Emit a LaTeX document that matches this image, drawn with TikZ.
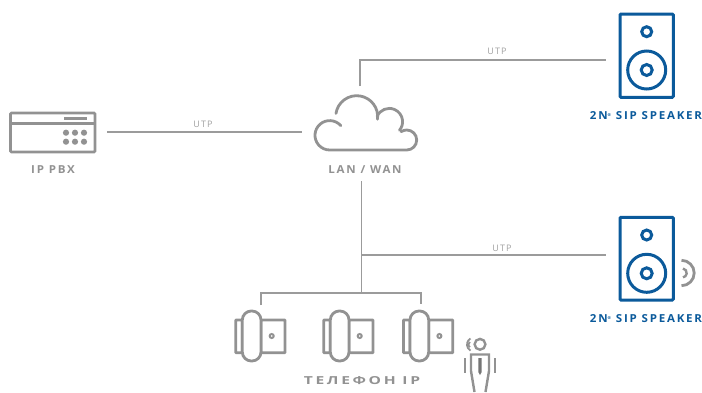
\documentclass[tikz,border=0pt]{standalone}
\usepackage{fontspec}
\setmainfont{Open Sans}
\newfontfamily\lblfont[LetterSpace=16,FakeStretch=1.05]{Open Sans}
\newfontfamily\phlfont[LetterSpace=24,FakeStretch=1.42]{Open Sans}
\newfontfamily\utpfont[LetterSpace=12]{Open Sans}
\definecolor{grayline}{HTML}{9B9B9B}
\definecolor{grayicon}{HTML}{929292}
\definecolor{graytext}{HTML}{A0A0A0}
\definecolor{bluesp}{HTML}{0B5A9B}
\tikzset{
  conn/.style={draw=grayline,line width=1.8pt},
  icon/.style={draw=grayicon,line width=2.8pt},
  spk/.style={draw=bluesp,line width=3pt},
  cablelbl/.style={text=graytext,font=\utpfont\fontsize{9}{10}\selectfont,inner sep=0pt},
  graylbl/.style={text=grayicon,font=\lblfont\bfseries\fontsize{11}{12}\selectfont,inner sep=0pt},
  phonelbl/.style={text=grayicon,font=\phlfont\bfseries\fontsize{11}{12}\selectfont,inner sep=0pt},
  bluelbl/.style={text=bluesp,font=\lblfont\bfseries\fontsize{11}{12}\selectfont,inner sep=0pt},
  pin/.style={fill=grayicon,draw=none}
}
\newcommand{\regmark}{\raisebox{3.5pt}{\fontsize{4}{4}\selectfont ®}}
\newcommand{\phoneicon}[1]{
  \begin{scope}[xshift=#1pt]
    \draw[icon,rounded corners=0.6pt] (242.3,320) rectangle (235.7,352.7);
    \draw[icon,rounded corners=0.6pt] (261,320) rectangle (285,352.7);
    \draw[icon,fill=white,rounded corners=9pt] (242.3,311) rectangle (261,361);
    \draw[icon,line width=2pt] (271.7,336) circle (2pt);
  \end{scope}
}
\begin{document}
\begin{tikzpicture}[x=1pt,y=1pt,yscale=-1]
\useasboundingbox (0,0) rectangle (702,392);
% PBX
\draw[icon,rounded corners=1pt] (10.5,113) rectangle (95,152);
\draw[icon] (10.5,123.8) -- (95,123.8);
\draw[icon] (64,118.7) -- (87,118.7);
\foreach \dx in {66,75,84} \foreach \dy in {132.7,141.7} \fill[pin] (\dx,\dy) circle (3.1pt);
\node[graylbl] (pbxl) at (53,169.7) {IP PBX};
% cloud
\draw[icon,line cap=round] (329.7,135.3)+(-41:14.7) arc (-41:-270:14.7) -- (406.7,150) arc (90:-124:10);
\draw[icon,line cap=round] (356.7,116.7)+(-171:21) arc (-171:7:21);
\draw[icon,line cap=round] (389.3,121.7)+(-157:13.3) arc (-157:40:13.3);
\coordinate (cloudW) at (302,132);
\coordinate (cloudN) at (360,86);
\coordinate (cloudS) at (361.5,181);
\node[graylbl] (lanl) at (365,169.7) {LAN / WAN};
% connectors
\coordinate (pbxE) at (107,132);
\coordinate (sp1W) at (606,60);
\coordinate (sp2W) at (606,255);
\coordinate (junc) at (361.5,255);
\coordinate (bus) at (361.5,293);
\coordinate (ph1) at (261,305);
\coordinate (ph3) at (421,304);
\draw[conn] (pbxE) -- (cloudW);
\draw[conn] (cloudN) |- (sp1W);
\draw[conn] (cloudS) -- (bus);
\draw[conn] (junc) -- (sp2W);
\draw[conn] (ph1) |- (bus) -| (ph3);
\node[cablelbl] (u1) at (203,124.7) {UTP};
\node[cablelbl] (u2) at (497,51.2) {UTP};
\node[cablelbl] (u3) at (502,248.2) {UTP};
% speaker 1
\draw[spk,rounded corners=1pt] (620,14) rectangle (673.3,97.3);
\draw[spk] (646.7,31.7) circle (5pt);
\draw[spk] (646.7,70) circle (19pt);
\draw[spk] (646.7,70) circle (5.5pt);
\node[bluelbl] (s1l) at (646,115.7) {2N\regmark{} SIP SPEAKER};
% speaker 2
\draw[spk,rounded corners=1pt] (620,217.3) rectangle (673.3,300);
\draw[spk] (646.7,235) circle (5pt);
\draw[spk] (646.7,273.3) circle (19pt);
\draw[spk] (646.7,273.3) circle (5.5pt);
\draw[draw=grayicon,line width=2.8pt] (681.5,260.3) arc (-90:90:12.7);
\draw[draw=grayicon,line width=2.4pt] (683,268.5) arc (-80:80:4.5);
\node[bluelbl] (s2l) at (646,318.7) {2N\regmark{} SIP SPEAKER};
% phones
\phoneicon{0}
\phoneicon{88}
\phoneicon{167.7}
\node[phonelbl] (phl) at (362,380.7) {ТЕЛЕФОН IP};
% person
\draw[icon,line width=2.4pt] (480,344.3) circle (5.4pt);
\draw[icon,line width=2.4pt] (471,371) -- (471,354.5) -- (489,354.5) -- (489,371) -- (485.5,392);
\draw[icon,line width=2.4pt] (471,371) -- (474.5,392);
\draw[icon,line width=2.4pt] (465,358) -- (465,373);
\draw[icon,line width=2.4pt] (495,358) -- (495,373);
\fill[grayicon!80!black] (478.3,358) -- (481.7,358) -- (481.7,372) -- (480,375) -- (478.3,372) -- cycle;
\draw[icon,line width=1.8pt] (470.5,338.5) arc (-120:-240:7);
\draw[icon,line width=1.8pt] (470,342) arc (-120:-240:3);
\end{tikzpicture}
\end{document}
